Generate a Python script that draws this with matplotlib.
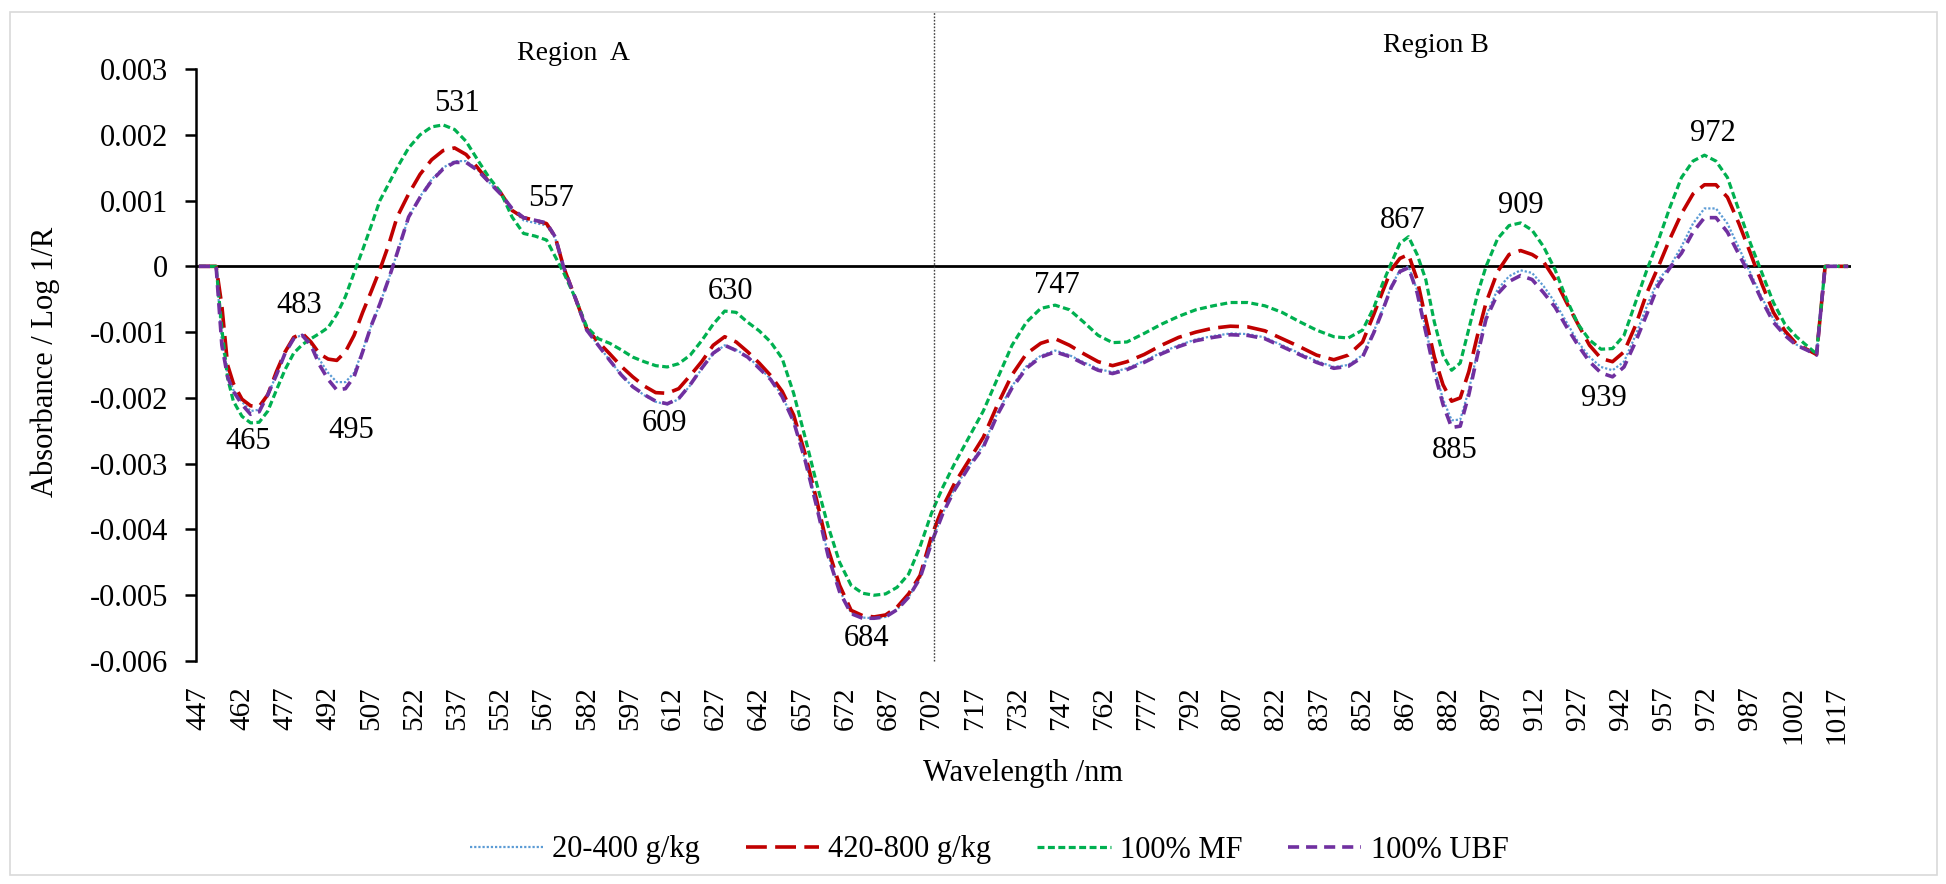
import numpy as np
import matplotlib
matplotlib.use("Agg")
import matplotlib.pyplot as plt
from matplotlib.patches import Rectangle

plt.rcParams["font.family"] = ["Liberation Serif", "DejaVu Serif"]
plt.rcParams["axes.unicode_minus"] = False
plt.rcParams["lines.scale_dashes"] = False

# wavelength grid (nm) and absorbance values (x 1e-3)
wavelength = [447, 453, 455, 457, 459, 462, 465, 468, 471, 474, 477, 480, 483, 486, 489, 492, 495, 498,
              501, 504, 507, 510, 513, 516, 520, 524, 528, 532, 536, 540, 544, 548, 552, 556, 560, 564,
              568, 571, 574, 578, 582, 586, 590, 594, 598, 602, 606, 610, 614, 618, 622, 626, 630, 634,
              638, 642, 646, 650, 654, 658, 662, 666, 670, 674, 678, 682, 686, 690, 694, 698, 702, 706,
              710, 715, 720, 725, 730, 735, 740, 745, 750, 755, 760, 765, 770, 776, 782, 788, 794, 800,
              806, 812, 818, 824, 830, 836, 842, 847, 852, 856, 859, 862, 865, 868, 871, 874, 877, 880,
              883, 886, 889, 892, 895, 899, 903, 907, 911, 915, 919, 923, 927, 931, 935, 939, 943, 947,
              951, 955, 959, 963, 967, 971, 975, 979, 983, 987, 991, 995, 999, 1003, 1007, 1010, 1013, 1021]

low_20_400 = [0, 0, -1.15, -1.65, -1.88, -2.06, -2.2, -2.18, -1.95, -1.65, -1.33, -1.1, -1.04, -1.18, -1.42, -1.62, -1.76, -1.76,
              -1.62, -1.28, -0.9, -0.57, -0.2, 0.2, 0.75, 1.06, 1.32, 1.5, 1.6, 1.6, 1.47, 1.28, 1.1, 0.86, 0.7, 0.66,
              0.62, 0.43, -0.03, -0.5, -0.98, -1.2, -1.43, -1.65, -1.83, -1.96, -2.06, -2.1, -2.02, -1.81, -1.56, -1.33, -1.2, -1.27,
              -1.37, -1.54, -1.71, -1.97, -2.35, -2.94, -3.64, -4.38, -4.93, -5.27, -5.34, -5.35, -5.33, -5.22, -5.03, -4.74, -4.2, -3.74,
              -3.38, -3.03, -2.72, -2.22, -1.82, -1.52, -1.36, -1.28, -1.35, -1.46, -1.56, -1.61, -1.55, -1.44, -1.31, -1.2, -1.11, -1.06,
              -1.02, -1.03, -1.08, -1.2, -1.32, -1.44, -1.53, -1.5, -1.35, -0.98, -0.65, -0.3, -0.06, 0.0, -0.36, -0.95, -1.55, -2.02,
              -2.34, -2.33, -1.88, -1.3, -0.75, -0.35, -0.15, -0.06, -0.1, -0.3, -0.55, -0.85, -1.15, -1.38, -1.53, -1.58, -1.45, -1.05,
              -0.6, -0.2, 0.0, 0.3, 0.65, 0.88, 0.88, 0.65, 0.28, -0.1, -0.48, -0.8, -1.03, -1.19, -1.27, -1.35, 0, 0]

mid_420_800 = [0, 0, -0.6, -1.5, -1.78, -2.02, -2.12, -2.13, -1.95, -1.6, -1.3, -1.08, -1.02, -1.15, -1.33, -1.41, -1.43, -1.3,
               -1.05, -0.7, -0.38, -0.05, 0.32, 0.75, 1.1, 1.4, 1.62, 1.76, 1.8, 1.7, 1.5, 1.28, 1.12, 0.85, 0.74, 0.7,
               0.65, 0.45, -0.02, -0.48, -0.95, -1.15, -1.33, -1.52, -1.68, -1.82, -1.92, -1.93, -1.86, -1.66, -1.45, -1.2, -1.07, -1.15,
               -1.3, -1.47, -1.66, -1.9, -2.26, -2.85, -3.55, -4.3, -4.85, -5.23, -5.31, -5.33, -5.3, -5.18, -4.98, -4.7, -4.1, -3.65,
               -3.3, -2.95, -2.6, -2.1, -1.65, -1.33, -1.17, -1.1, -1.2, -1.33, -1.45, -1.51, -1.45, -1.34, -1.2, -1.08, -1.0, -0.94,
               -0.91, -0.92, -0.98, -1.1, -1.22, -1.35, -1.42, -1.35, -1.15, -0.72, -0.38, -0.05, 0.12, 0.18, -0.2, -0.8, -1.38, -1.8,
               -2.05, -2.0, -1.6, -1.05, -0.55, -0.08, 0.18, 0.24, 0.18, 0.07, -0.2, -0.55, -0.88, -1.2, -1.4, -1.45, -1.3, -0.9,
               -0.4, 0.0, 0.42, 0.8, 1.1, 1.24, 1.24, 1.05, 0.65, 0.2, -0.27, -0.7, -0.98, -1.18, -1.27, -1.34, 0, 0]

mf_100 = [0, 0, -0.95, -1.7, -2.05, -2.28, -2.38, -2.37, -2.2, -1.88, -1.57, -1.32, -1.19, -1.1, -1.02, -0.93, -0.73, -0.46,
          -0.1, 0.25, 0.62, 1.0, 1.25, 1.5, 1.8, 2.0, 2.12, 2.15, 2.08, 1.9, 1.62, 1.35, 1.13, 0.75, 0.5, 0.46,
          0.4, 0.15, -0.1, -0.48, -0.92, -1.1, -1.17, -1.27, -1.38, -1.45, -1.51, -1.53, -1.48, -1.35, -1.13, -0.88, -0.68, -0.7,
          -0.85, -0.98, -1.15, -1.4, -1.93, -2.6, -3.3, -3.95, -4.5, -4.85, -4.97, -5.0, -4.98, -4.88, -4.68, -4.26, -3.75, -3.35,
          -3.0, -2.6, -2.2, -1.7, -1.2, -0.85, -0.64, -0.59, -0.66, -0.85, -1.05, -1.16, -1.15, -1.02, -0.88, -0.76, -0.66, -0.6,
          -0.55, -0.55, -0.6, -0.7, -0.84, -0.97, -1.07, -1.09, -0.97, -0.62, -0.26, 0.05, 0.35, 0.45, 0.18, -0.2, -0.85, -1.35,
          -1.58, -1.47, -0.95, -0.42, 0.0, 0.42, 0.62, 0.66, 0.55, 0.3, -0.05, -0.5, -0.88, -1.12, -1.26, -1.25, -1.05, -0.55,
          -0.05, 0.4, 0.9, 1.35, 1.6, 1.69, 1.6, 1.35, 0.85, 0.35, -0.1, -0.55, -0.88, -1.07, -1.22, -1.33, 0, 0]

ubf_100 = [0, 0, -1.2, -1.68, -1.9, -2.1, -2.25, -2.21, -1.95, -1.65, -1.32, -1.1, -1.05, -1.2, -1.5, -1.72, -1.88, -1.86,
           -1.68, -1.3, -0.9, -0.57, -0.2, 0.2, 0.75, 1.05, 1.3, 1.48, 1.58, 1.58, 1.46, 1.28, 1.1, 0.88, 0.74, 0.7,
           0.66, 0.45, -0.02, -0.48, -0.97, -1.2, -1.43, -1.65, -1.83, -1.95, -2.05, -2.09, -2.01, -1.8, -1.55, -1.32, -1.2, -1.28,
           -1.38, -1.55, -1.72, -1.98, -2.36, -2.95, -3.65, -4.4, -4.95, -5.28, -5.35, -5.35, -5.33, -5.22, -5.03, -4.74, -4.2, -3.75,
           -3.4, -3.05, -2.75, -2.25, -1.85, -1.55, -1.38, -1.3, -1.37, -1.48, -1.58, -1.63, -1.57, -1.46, -1.33, -1.22, -1.13, -1.08,
           -1.04, -1.05, -1.1, -1.22, -1.34, -1.46, -1.55, -1.52, -1.38, -1.0, -0.67, -0.32, -0.08, -0.02, -0.4, -1.0, -1.6, -2.1,
           -2.45, -2.43, -1.95, -1.35, -0.8, -0.42, -0.23, -0.14, -0.2, -0.4, -0.62, -0.92, -1.2, -1.45, -1.62, -1.68, -1.53, -1.15,
           -0.72, -0.28, -0.02, 0.2, 0.52, 0.74, 0.74, 0.52, 0.18, -0.15, -0.52, -0.85, -1.05, -1.2, -1.28, -1.35, 0, 0]

series_names = ["20-400 g/kg", "420-800 g/kg", "100% MF", "100% UBF"]

# peak labels: (text, wavelength, absorbance x 1e-3)
peak_labels = [("465", 464, -2.67), ("483", 482, -0.59), ("495", 500, -2.49), ("531", 537, 2.47),
               ("557", 569.5, 1.03), ("609", 609, -2.39), ("630", 632, -0.39), ("684", 679.5, -5.66),
               ("747", 745.5, -0.29), ("867", 866, 0.70), ("885", 884, -2.80), ("909", 907, 0.93),
               ("939", 936, -2.01), ("972", 974, 2.02)]

x_ticks = list(range(447, 1018, 15))
y_ticks = [0.003, 0.002, 0.001, 0, -0.001, -0.002, -0.003, -0.004, -0.005, -0.006]
y_tick_labels = ["0.003", "0.002", "0.001", "0", "-0.001", "-0.002", "-0.003", "-0.004", "-0.005", "-0.006"]

W, H = 1946, 884
fig = plt.figure(figsize=(W / 100, H / 100), dpi=100)
ax = fig.add_axes([196 / W, 1 - 661 / H, (1851 - 196) / W, (661 - 69) / H])

wl = np.array(wavelength)
styles = [
    dict(color="#5B9BD5", lw=1.6, dashes=(1.6, 1.4)),
    dict(color="#C00000", lw=2.6, dashes=(15, 6)),
    dict(color="#00B050", lw=2.3, dashes=(5, 2.5)),
    dict(color="#7030A0", lw=2.6, dashes=(8, 5)),
]
for vals, name, st in zip([low_20_400, mid_420_800, mf_100, ubf_100], series_names, styles):
    ax.plot(wl, np.array(vals) * 1e-3, label=name, **st)

ax.axhline(0, color="black", lw=2.0, zorder=1)
ax.axvline(703, ymin=0, ymax=(661 - 12) / (661 - 69), color="#404040", lw=1.0,
           linestyle=(0, (1.2, 1.2)), clip_on=False)

ax.set_xlim(446, 1022)
ax.set_ylim(-0.006, 0.003)
for s in ["top", "right", "bottom"]:
    ax.spines[s].set_visible(False)
ax.spines["left"].set_linewidth(1.8)

ax.set_yticks(y_ticks)
ax.set_yticklabels(y_tick_labels, fontsize=22)
ax.tick_params(axis="y", length=8, width=1.8, pad=12)
ax.set_xticks(x_ticks)
ax.set_xticklabels([str(t) for t in x_ticks], rotation=90, fontsize=21)
ax.tick_params(axis="x", length=0, pad=18)

for txt, x, y in peak_labels:
    ax.text(x, y * 1e-3, txt, ha="center", va="center", fontsize=22)

ax.text(577.5, 3.24e-3, "Region  A", ha="center", va="center", fontsize=20, clip_on=False)
ax.text(877.5, 3.36e-3, "Region B", ha="center", va="center", fontsize=20, clip_on=False)

fig.text(1023 / W, 1 - 773 / H, "Wavelength /nm", ha="center", va="center", fontsize=22)
fig.text(45 / W, 1 - 362 / H, "Absorbance / Log 1/R", ha="center", va="center",
         rotation=90, fontsize=22)

fig.legend(loc="center", bbox_to_anchor=(989 / W, 1 - 850 / H), ncol=4, frameon=False,
           fontsize=22, handlelength=2.4, handletextpad=0.3, columnspacing=1.5)

fig.patches.append(Rectangle((10 / W, 1 - 875 / H), (1937 - 10) / W, (875 - 12) / H,
                             transform=fig.transFigure, fill=False, edgecolor="#d9d9d9", lw=1.2))

fig.savefig("out.png", dpi=100)
